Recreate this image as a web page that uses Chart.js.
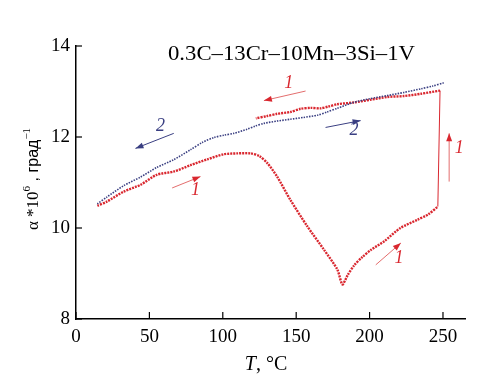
<!DOCTYPE html>
<html>
<head>
<meta charset="utf-8">
<script src="https://cdn.jsdelivr.net/npm/chart.js@4.4.0/dist/chart.umd.min.js"></script>
<style>
  html, body { margin: 0; padding: 0; background: #fff; }
</style>
</head>
<body>
<canvas id="chart" width="499" height="382"></canvas>
<script>
// data (T in °C, alpha * 10^6 in 1/deg)
const heatT = [14.5, 21, 32.5, 44, 55, 66.5, 78, 89.5, 100.5, 110, 119, 125, 130.5, 137, 146, 157.5, 169, 178, 181.5, 185, 189.5, 195, 201, 210, 221, 232.5, 240, 246.5];
const heatA = [10.49, 10.58, 10.80, 10.95, 11.17, 11.24, 11.38, 11.51, 11.62, 11.64, 11.64, 11.58, 11.42, 11.13, 10.62, 10.04, 9.52, 9.09, 8.76, 8.96, 9.18, 9.36, 9.52, 9.71, 10.00, 10.18, 10.30, 10.47];

const jumpT = [246.5, 248];
const jumpA = [10.47, 13.02];

const coolT = [248, 235, 223.5, 212, 201, 189.5, 178, 172, 166.5, 160, 153, 146, 137, 130, 122.5];
const coolA = [13.02, 12.95, 12.90, 12.88, 12.82, 12.76, 12.72, 12.67, 12.63, 12.64, 12.62, 12.55, 12.51, 12.46, 12.41];

const curve2T = [14.5, 21, 32.5, 44, 55, 66.5, 78, 86, 94, 101, 107.5, 116.5, 122, 128, 137, 146, 155, 164.5, 171, 178, 189, 200, 212, 223.5, 235, 243, 250.5];
const curve2A = [10.53, 10.68, 10.93, 11.12, 11.33, 11.50, 11.72, 11.88, 11.99, 12.04, 12.08, 12.17, 12.24, 12.30, 12.35, 12.39, 12.43, 12.48, 12.55, 12.63, 12.76, 12.84, 12.91, 12.98, 13.06, 13.12, 13.19];

const xTicks = [0, 50, 100, 150, 200, 250];
const yTicks = [8, 10, 12, 14];

// direction arrows: [fromT, fromA, toT, toA, label, labelT, labelA, colour]
const arrows = [
  [65.5, 10.88, 84.8, 11.13, '1', 81.4, 10.84, 'red'],
  [66.6, 12.08, 40.5, 11.75, '2', 57.5, 12.24, 'blue'],
  [156.4, 13.01, 128, 12.80, '1', 145, 13.18, 'red'],
  [170, 12.21, 193.9, 12.36, '2', 189.4, 12.15, 'blue'],
  [254.2, 11.02, 254.2, 12.08, '1', 261, 11.75, 'red'],
  [204.2, 9.19, 221.3, 9.67, '1', 220, 9.34, 'red']
];

const RED = '#d9272f';
const BLUE = '#3a3f82';
const SERIF = '"Liberation Serif", "Times New Roman", serif';
const SANS = '"Liberation Sans", Arial, sans-serif';

const toPts = (xs, ys) => xs.map((v, i) => ({ x: v, y: ys[i] }));

function arrowHead(ctx, x1, y1, x2, y2) {
  const ang = Math.atan2(y2 - y1, x2 - x1);
  const len = 8, half = 3;
  ctx.beginPath();
  ctx.moveTo(x2, y2);
  ctx.lineTo(x2 - len * Math.cos(ang) + half * Math.sin(ang), y2 - len * Math.sin(ang) - half * Math.cos(ang));
  ctx.lineTo(x2 - len * Math.cos(ang) - half * Math.sin(ang), y2 - len * Math.sin(ang) + half * Math.cos(ang));
  ctx.closePath();
  ctx.fill();
}

const decor = {
  id: 'decor',
  afterDraw(chart) {
    const { ctx, chartArea: a, scales: { x, y } } = chart;
    ctx.save();

    // inward ticks
    ctx.strokeStyle = '#000';
    ctx.lineWidth = 1.2;
    xTicks.forEach(v => {
      const px = x.getPixelForValue(v);
      ctx.beginPath(); ctx.moveTo(px, a.bottom); ctx.lineTo(px, a.bottom - 7); ctx.stroke();
    });
    yTicks.forEach(v => {
      const py = y.getPixelForValue(v);
      ctx.beginPath(); ctx.moveTo(a.left, py); ctx.lineTo(a.left + 6, py); ctx.stroke();
    });

    // arrows with numbers
    arrows.forEach(([t1, a1, t2, a2, lab, lt, la, col]) => {
      const c = col === 'red' ? RED : BLUE;
      const x1 = x.getPixelForValue(t1), y1 = y.getPixelForValue(a1);
      const x2 = x.getPixelForValue(t2), y2 = y.getPixelForValue(a2);
      ctx.strokeStyle = col === 'red' ? 'rgba(217,60,60,0.75)' : c;
      ctx.fillStyle = c;
      ctx.lineWidth = 1;
      ctx.beginPath(); ctx.moveTo(x1, y1); ctx.lineTo(x2, y2); ctx.stroke();
      arrowHead(ctx, x1, y1, x2, y2);
      ctx.font = 'italic 18px ' + SERIF;
      ctx.textAlign = 'center';
      ctx.textBaseline = 'middle';
      ctx.fillText(lab, x.getPixelForValue(lt), y.getPixelForValue(la));
    });

    // alloy name, stretched to the width it has in the figure
    ctx.fillStyle = '#000';
    ctx.font = '21px ' + SERIF;
    ctx.textAlign = 'left';
    ctx.textBaseline = 'alphabetic';
    const name = '0.3C\u201313Cr\u201310Mn\u20133Si\u20131V';
    const k = 247 / ctx.measureText(name).width;
    ctx.save();
    ctx.translate(168, 60);
    ctx.scale(k, 1);
    ctx.fillText(name, 0, 0);
    ctx.restore();

    // x axis title
    ctx.font = 'italic 20px ' + SERIF;
    const wT = ctx.measureText('T').width;
    ctx.font = '20px ' + SERIF;
    const wRest = ctx.measureText(', \u00b0C').width;
    let sx = 266 - (wT + wRest) / 2;
    ctx.font = 'italic 20px ' + SERIF;
    ctx.fillText('T', sx, 370);
    ctx.font = '20px ' + SERIF;
    ctx.fillText(', \u00b0C', sx + wT, 370);

    // y axis title, rotated
    const parts = [
      ['\u03b1 *10', '17px ' + SERIF, 0],
      ['6', '11px ' + SERIF, -8],
      [' , \u0433\u0440\u0430\u0434', '16px ' + SANS, 0],
      ['\u22121', '11px ' + SERIF, -8]
    ];
    let total = 0;
    parts.forEach(p => { ctx.font = p[1]; total += ctx.measureText(p[0]).width; });
    ctx.translate(38, 179);
    ctx.rotate(-Math.PI / 2);
    let cx = -total / 2;
    parts.forEach(p => {
      ctx.font = p[1];
      ctx.fillText(p[0], cx, p[2]);
      cx += ctx.measureText(p[0]).width;
    });

    ctx.restore();
  }
};

new Chart(document.getElementById('chart'), {
  type: 'scatter',
  data: {
    datasets: [
      { data: toPts(curve2T, curve2A), showLine: true, borderColor: BLUE, borderWidth: 1.6, borderDash: [1.5, 1.2], pointRadius: 0, tension: 0.25 },
      { data: toPts(heatT, heatA), showLine: true, borderColor: RED, borderWidth: 2.4, borderDash: [2, 1], pointRadius: 0, tension: 0.25 },
      { data: toPts(coolT, coolA), showLine: true, borderColor: RED, borderWidth: 2.4, borderDash: [2, 1], pointRadius: 0, tension: 0.25 },
      { data: toPts(jumpT, jumpA), showLine: true, borderColor: RED, borderWidth: 1, pointRadius: 0 }
    ]
  },
  options: {
    responsive: false,
    animation: false,
    layout: { padding: { top: 46, right: 34, left: 0, bottom: 0 } },
    plugins: { legend: { display: false }, tooltip: { enabled: false } },
    scales: {
      x: {
        type: 'linear', min: 0, max: 265,
        afterBuildTicks: s => { s.ticks = xTicks.map(v => ({ value: v })); },
        afterFit: s => { s.height = 63; },
        grid: { display: false, drawTicks: false },
        border: { display: true, color: '#000', width: 1.5 },
        ticks: { color: '#000', padding: 7, font: { family: SERIF, size: 19 } }
      },
      y: {
        type: 'linear', min: 8, max: 14,
        afterBuildTicks: s => { s.ticks = yTicks.map(v => ({ value: v })); },
        afterFit: s => { s.width = 76; },
        grid: { display: false, drawTicks: false },
        border: { display: true, color: '#000', width: 1.5 },
        ticks: { color: '#000', padding: 6, font: { family: SERIF, size: 19 } }
      }
    }
  },
  plugins: [decor]
});
</script>
</body>
</html>
